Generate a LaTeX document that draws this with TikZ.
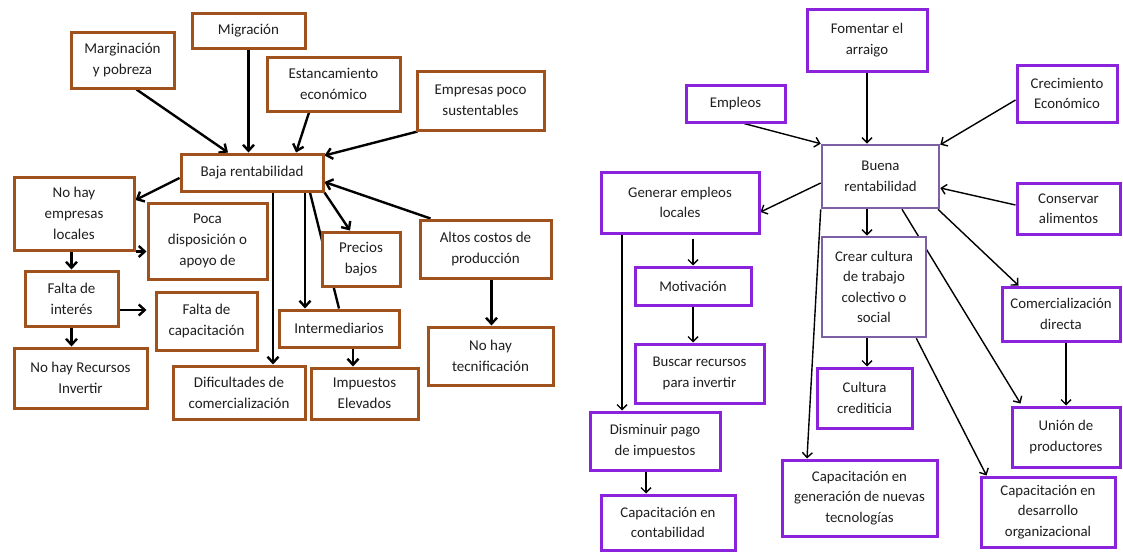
\documentclass[tikz,border=0pt]{standalone}
\usepackage{fontspec}
\setmainfont{Carlito}
\usepackage{xcolor}
\usetikzlibrary{arrows.meta,backgrounds}

\definecolor{boxbrown}{RGB}{160,82,30}
\definecolor{boxviolet}{RGB}{140,35,220}
\definecolor{boxlilac}{RGB}{125,95,165}

\begin{document}
\begin{tikzpicture}[x=1pt, y=-1pt,
  cbox/.style={draw, fill=white, inner sep=0pt, align=center, text=black!88},
  sz/.style 2 args={minimum width=#1pt, minimum height=#2pt},
  brownbox/.style={cbox, draw=boxbrown, line width=3pt, font=\fontsize{15}{21}\selectfont},
  violetbox/.style={cbox, draw=boxviolet, line width=3pt, font=\fontsize{14.8}{20.5}\selectfont},
  lilacbox/.style={cbox, draw=boxlilac, line width=2.6pt, font=\fontsize{14.8}{20.5}\selectfont},
  lcon/.style={line width=2.4pt, -{Straight Barb[length=6pt,width=11pt]}},
  rcon/.style={line width=1.4pt, -{Straight Barb[length=5pt,width=10pt]}},
]
\useasboundingbox (0,0) rectangle (1123,552);

% Left map: causes
\node[brownbox, sz={103}{56}] (marg) at (122.5,60) {Marginación\\y pobreza};
\node[brownbox, sz={113}{35}] (migr) at (248.5,30.5) {Migración};
\node[brownbox, sz={133}{54}] (estan) at (333.5,84) {Estancamiento\\económico};
\node[brownbox, sz={127}{59}] (empr) at (480.5,100.5) {Empresas poco\\sustentables};
\node[brownbox, sz={142}{37}] (baja) at (252,172.5) {Baja rentabilidad};
% Left map: effects
\node[brownbox, sz={120}{73}] (nohay) at (74,213.5) {No hay\\empresas\\locales};
\node[brownbox, sz={119}{76}] (poca) at (207.5,241) {Poca\\disposición o\\apoyo de};
\node[brownbox, sz={93}{55}] (interes) at (71.5,298.5) {Falta de\\interés};
\node[brownbox, sz={101}{58}] (faltacap) at (206.5,321) {Falta de\\capacitación};
\node[brownbox, sz={133}{60}] (recursos) at (80.5,378) {No hay Recursos\\Invertir};
\node[brownbox, sz={132}{53}] (dific) at (239,392.5) {Dificultades de\\comercialización};
\node[brownbox, sz={78}{54}] (precios) at (361,259) {Precios\\bajos};
\node[brownbox, sz={120}{37}] (interm) at (339,328.5) {Intermediarios};
\node[brownbox, sz={107}{51}] (impuestos) at (364.5,393.5) {Impuestos\\Elevados};
\node[brownbox, sz={131}{58}] (altos) at (485.5,249) {Altos costos de\\producción};
\node[brownbox, sz={125}{58}] (tecnif) at (490.5,356) {No hay\\tecnificación};

% Right map
\node[violetbox, sz={120}{62}] (foment) at (867,40) {Fomentar el\\arraigo};
\node[violetbox, sz={99}{37}] (empleos) at (735.5,103.5) {Empleos};
\node[violetbox, sz={100}{57}] (crecim) at (1067,93.5) {Crecimiento\\Económico};
\node[lilacbox, sz={117}{63}] (buena) at (880.5,176.5) {Buena\\rentabilidad};
\node[violetbox, sz={158}{61}] (generar) at (680,202.5) {Generar empleos\\locales};
\node[violetbox, sz={103}{51}] (conserv) at (1068.5,208.5) {Conservar\\alimentos};
\node[violetbox, sz={116}{38}] (motiv) at (693,286) {Motivación};
\node[violetbox, sz={129}{59}] (buscar) at (699.5,373.5) {Buscar recursos\\para invertir};
\node[lilacbox, sz={104}{100}] (crear) at (874,287) {Crear cultura\\de trabajo\\colectivo o\\social};
\node[violetbox, sz={118}{54}] (comerc) at (1061,314) {Comercialización\\directa};
\node[violetbox, sz={95}{60}] (credit) at (864.5,398) {Cultura\\crediticia};
\node[violetbox, sz={108}{60}] (union) at (1066,437) {Unión de\\productores};
\node[violetbox, sz={130}{58}] (dismin) at (655,441) {Disminuir pago\\de impuestos};
\node[violetbox, sz={134}{55}] (contab) at (668,522.5) {Capacitación en\\contabilidad};
\node[violetbox, sz={155}{76}] (gener) at (859.5,498) {Capacitación en\\generación de nuevas\\tecnologías};
\node[violetbox, sz={134}{70}] (desarr) at (1048,512) {Capacitación en\\desarrollo\\organizacional};

\begin{scope}[on background layer]
% Left connectors
\draw[lcon] ([xshift=14pt]marg.south) -- ([xshift=-24pt]baja.north);
\draw[lcon] (migr.south) -- (migr.south |- baja.north);
\draw[lcon] ([xshift=-24.5pt]estan.south) -- ([xshift=44pt]baja.north);
\draw[lcon] ([xshift=2pt]empr.south west) -- ([yshift=-3pt]baja.north east);
\draw[lcon] ([xshift=12pt]altos.north west) -- ([yshift=-9.5pt]baja.east);
\draw[lcon] ([yshift=-5.5pt]baja.west) -- ([yshift=13.5pt]nohay.east);
\draw[lcon] (nohay.south east) -- (nohay.south east -| poca.west);
\draw[lcon] (interes.north |- nohay.south) -- (interes.north);
\draw[lcon] (interes.south) -- (interes.south |- recursos.north);
\draw[lcon, shorten >=8pt] ([yshift=-11.5pt]interes.east) -- ([yshift=-11.5pt]interes.east -| faltacap.west);
\draw[lcon] ([xshift=21pt]baja.south) -- ([xshift=34pt]dific.north);
\draw[lcon] ([xshift=53pt]baja.south) -- ([xshift=-34pt]interm.north);
\draw[lcon] (baja.south east) -- ([xshift=-11pt]precios.north);
\draw[line width=2.4pt] ([xshift=58pt]baja.south) -- (interm.north);
\draw[lcon] ([xshift=14pt]interm.south) -- ([xshift=14pt]interm.south |- impuestos.north);
\draw[lcon] ([xshift=6pt]altos.south) -- ([xshift=6pt]altos.south |- tecnif.north);

% Right connectors
\draw[rcon] (foment.south) -- (foment.south |- buena.north);
\draw[rcon] ([xshift=8.5pt]empleos.south) -- (buena.north west);
\draw[rcon] ([yshift=-6.5pt]crecim.west) -- ([yshift=-1pt]buena.north east);
\draw[rcon] ([yshift=3.5pt]conserv.west) -- ([yshift=-11.5pt]buena.east);
\draw[rcon] ([yshift=-6.5pt]buena.west) -- ([yshift=-9.5pt]generar.east);
\draw[rcon, shorten <=4pt] (motiv.north |- generar.south) -- (motiv.north);
\draw[rcon] (motiv.south) -- (motiv.south |- buscar.north);
\draw[rcon] ([xshift=-58pt]generar.south) -- ([xshift=-58pt]generar.south |- dismin.north);
\draw[rcon] ([xshift=-13.5pt]buena.south) -- ([xshift=-13.5pt]buena.south |- crear.north);
\draw[rcon] ([xshift=-7pt]crear.south) -- ([xshift=-7pt]crear.south |- credit.north);
\draw[rcon] (buena.south west) -- ([xshift=-52.5pt]gener.north);
\draw[rcon] ([xshift=21.5pt]buena.south) -- ([xshift=10pt,yshift=2pt]union.north west);
\draw[rcon] ([xshift=57.5pt]buena.south) -- ([xshift=18pt]comerc.north west);
\draw[rcon] ([xshift=-11pt]crear.south east) -- ([xshift=7pt]desarr.north west);
\draw[rcon] ([xshift=5pt]comerc.south) -- ([xshift=5pt]comerc.south |- union.north);
\draw[rcon] ([xshift=-9pt]dismin.south) -- ([xshift=-9pt]dismin.south |- contab.north);
\end{scope}
\end{tikzpicture}
\end{document}
